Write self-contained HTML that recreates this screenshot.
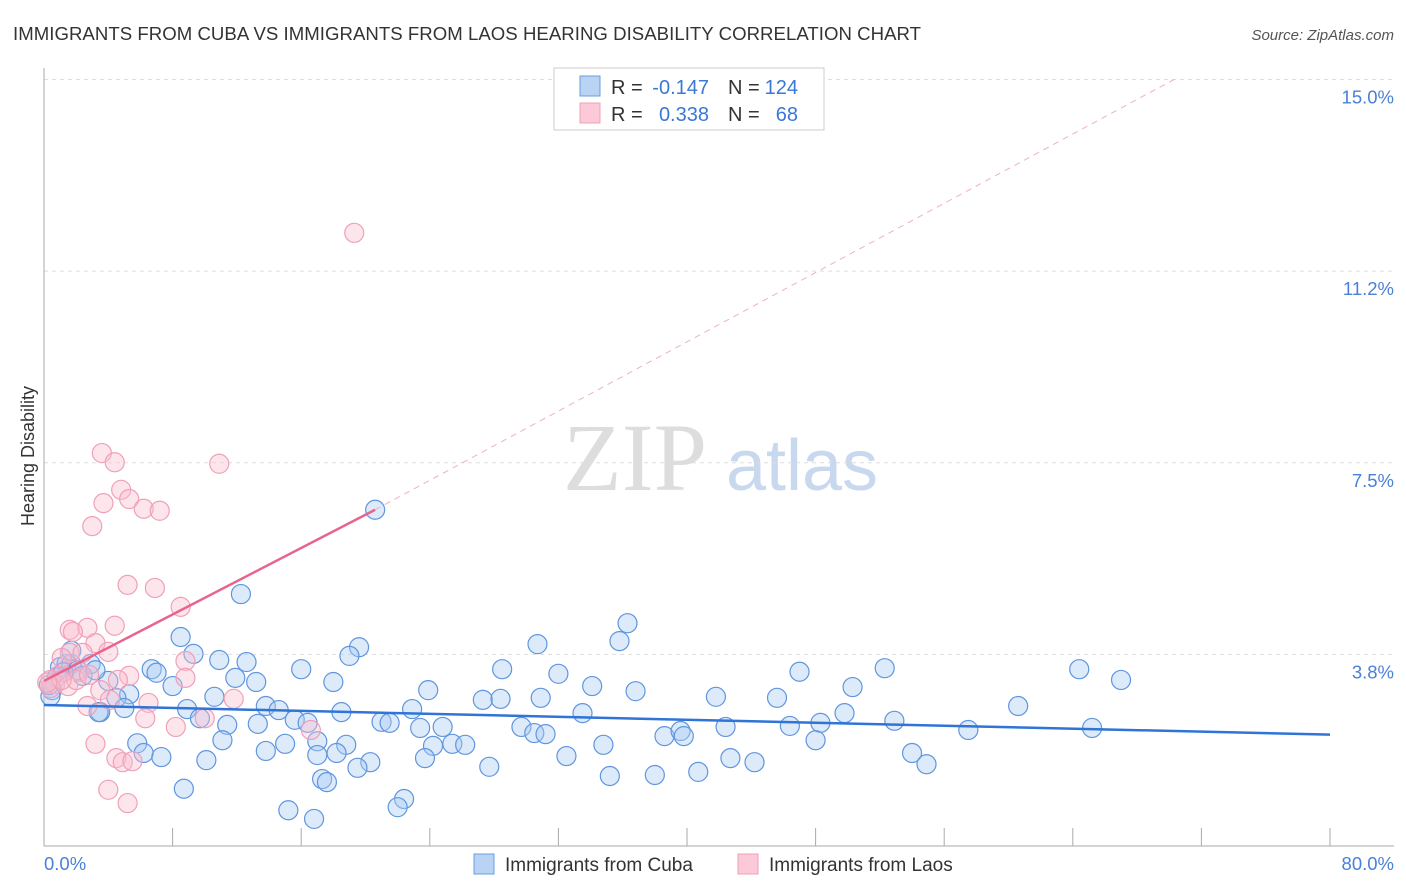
<!DOCTYPE html>
<html><head><meta charset="utf-8"><style>
body{margin:0;background:#fff;font-family:"Liberation Sans",sans-serif}
svg{display:block}
</style></head><body>
<svg id="c" width="1406" height="892" xmlns="http://www.w3.org/2000/svg">
<text x="13" y="40" font-size="18.6" fill="#333" textLength="908">IMMIGRANTS FROM CUBA VS IMMIGRANTS FROM LAOS HEARING DISABILITY CORRELATION CHART</text>
<text x="1394" y="40" font-size="15" fill="#555" font-style="italic" text-anchor="end">Source: ZipAtlas.com</text>
<text x="635" y="490" font-size="96" fill="#ddd" font-family="Liberation Serif,serif" text-anchor="middle">ZIP</text>
<text x="802" y="490" font-size="72" fill="#c8d8ee" text-anchor="middle">atlas</text>
<text transform="translate(34,456) rotate(-90)" font-size="18" fill="#333" text-anchor="middle">Hearing Disability</text>
<g id="grid"></g><g id="pts"></g><g id="lines"></g>
<text x="44" y="870" font-size="18.5" fill="#4a80d8">0.0%</text>
<text x="1394" y="870" font-size="18.5" fill="#4a80d8" text-anchor="end">80.0%</text>
<g font-size="20">
<rect x="554" y="68" width="270" height="62" fill="#fff" stroke="#ccc"/>
<rect x="580" y="76" width="20" height="20" fill="#b9d3f5" stroke="#6a9de0"/>
<rect x="580" y="103" width="20" height="20" fill="#fbc9d8" stroke="#f0a0b8"/>
<text x="611" y="94" fill="#333">R =</text>
<text x="709" y="94" fill="#3a78d8" text-anchor="end">-0.147</text>
<text x="728" y="94" fill="#333">N =</text>
<text x="798" y="94" fill="#3a78d8" text-anchor="end">124</text>
<text x="611" y="121" fill="#333">R =</text>
<text x="709" y="121" fill="#3a78d8" text-anchor="end">0.338</text>
<text x="728" y="121" fill="#333">N =</text>
<text x="798" y="121" fill="#3a78d8" text-anchor="end">68</text>
</g>
<g>
<rect x="474" y="854" width="20" height="20" fill="#b9d3f5" stroke="#6a9de0"/>
<text x="505" y="871" font-size="19" fill="#333">Immigrants from Cuba</text>
<rect x="738" y="854" width="20" height="20" fill="#fbc9d8" stroke="#f0a0b8"/>
<text x="769" y="871" font-size="19" fill="#333">Immigrants from Laos</text>
</g>
</svg>
<script>
const yTicks=[3.75,7.5,11.25,15];
const yTickLabels=["3.8%","7.5%","11.2%","15.0%"];
const xTicks=[0,8,16,24,32,40,48,56,64,72,80];
const cubaX=[20.6,12.25,36.3,8.5,30.7,19.6,35.8,19.0,9.3,10.9,12.6,6.7,7.0,16.0,28.5,32.0,47.0,52.3,64.4,67.0,11.9,13.2,18.0,8.0,23.9,34.1,36.8,50.3,10.6,27.3,28.4,30.9,41.8,45.6,5.3,4.5,5.0,3.5,8.9,13.8,14.6,18.5,22.9,33.5,49.8,60.6,9.7,15.6,16.4,11.4,13.3,21.0,21.5,23.4,24.8,29.7,30.5,31.2,38.6,39.6,39.8,42.4,46.4,48.3,52.9,57.5,65.2,11.1,15.0,17.0,18.8,24.2,25.4,26.2,34.8,48.0,5.8,6.2,7.3,10.1,13.8,17.0,18.2,20.3,19.5,23.7,27.7,32.5,42.7,44.2,54.0,54.9,35.2,38.0,40.7,17.3,17.6,8.7,22.4,22.0,15.2,16.8,1.0,1.4,1.7,2.9,2.1,0.5,0.4,1.7,4.0,2.4,3.2,3.4,0.3,0.8,1.2];
const cubaY=[6.58,4.93,4.36,4.09,3.95,3.89,4.01,3.72,3.76,3.64,3.60,3.46,3.39,3.46,3.46,3.37,3.41,3.48,3.46,3.25,3.29,3.21,3.21,3.13,3.05,3.13,3.03,3.11,2.92,2.86,2.88,2.90,2.92,2.90,2.97,2.90,2.70,2.62,2.68,2.74,2.66,2.62,2.68,2.60,2.60,2.74,2.50,2.47,2.41,2.37,2.39,2.43,2.41,2.31,2.33,2.33,2.21,2.19,2.15,2.25,2.15,2.33,2.35,2.41,2.45,2.27,2.31,2.07,2.00,2.05,1.98,1.96,2.00,1.98,1.98,2.07,2.01,1.82,1.74,1.68,1.86,1.78,1.82,1.64,1.53,1.72,1.55,1.76,1.72,1.64,1.82,1.60,1.37,1.39,1.45,1.31,1.25,1.12,0.92,0.76,0.70,0.53,3.50,3.56,3.56,3.56,3.44,3.05,2.93,3.82,3.23,3.33,3.44,2.62,3.15,3.30,3.40];
const laosX=[19.3,3.6,4.4,10.9,4.8,3.7,5.3,6.2,7.2,3.0,5.2,6.9,8.5,4.4,1.6,2.7,1.8,3.2,4.0,8.8,1.6,2.4,1.1,5.3,8.8,0.9,0.4,0.7,2.2,4.6,3.5,1.5,2.0,11.8,6.5,2.7,4.1,6.3,10.0,8.2,16.6,3.2,4.5,4.9,5.5,4.0,5.2,0.4,1.1,0.2,2.8];
const laosY=[12.0,7.69,7.51,7.48,6.97,6.71,6.79,6.60,6.56,6.26,5.11,5.05,4.68,4.31,4.23,4.27,4.19,3.97,3.80,3.62,3.78,3.78,3.68,3.33,3.29,3.33,3.25,3.17,3.41,3.25,3.05,3.13,3.25,2.88,2.80,2.74,2.86,2.50,2.50,2.33,2.27,2.00,1.72,1.64,1.66,1.10,0.84,3.09,3.25,3.20,3.35];
const cubaTrend=[[0,2.76],[80,2.18]];
const laosTrend=[[0,3.23],[20.6,6.58]];
const laosTrendExt=[[20.6,6.58],[70.3,15.0]];
const X=v=>44+v/80*1286, Y=v=>846-v*51.1;
const NS="http://www.w3.org/2000/svg";
function mk(t,a,p){const e=document.createElementNS(NS,t);for(const k in a)e.setAttribute(k,a[k]);p.appendChild(e);return e;}
const grid=document.getElementById('grid'),pts=document.getElementById('pts'),lines=document.getElementById('lines');
yTicks.forEach((v,i)=>{
 const l=mk('line',{x1:44,x2:1394,y1:Y(v),y2:Y(v),stroke:'#ddd','stroke-dasharray':'4,4'},grid);
 
 
 const t=mk('text',{x:1394,y:Y(v)+24,'font-size':18.5,fill:'#4a80d8','text-anchor':'end'},grid);
 t.textContent=yTickLabels[i];
 
 
});
const ax=mk('line',{x1:44,x2:44,y1:68,y2:846,stroke:'#aaa'},grid);


const bx=mk('line',{x1:44,x2:1394,y1:846,y2:846,stroke:'#aaa'},grid);


xTicks.forEach(v=>{
 const t=mk('line',{x1:X(v),x2:X(v),y1:828,y2:846,stroke:'#aaa'},grid);
 
 
});
cubaX.forEach((v,i)=>{
 const c=mk('circle',{cx:X(v),cy:Y(cubaY[i]),r:9.5,fill:'rgba(170,202,242,0.4)',stroke:'#5f96df','stroke-width':1.2},pts);
 
 
});
laosX.forEach((v,i)=>{
 const c=mk('circle',{cx:X(v),cy:Y(laosY[i]),r:9.5,fill:'rgba(250,190,208,0.4)',stroke:'#f0a0b8','stroke-width':1.2},pts);
 
 
});
const l1=mk('line',{x1:X(cubaTrend[0][0]),y1:Y(cubaTrend[0][1]),x2:X(cubaTrend[1][0]),y2:Y(cubaTrend[1][1]),stroke:'#2f74d6','stroke-width':2.5},lines);


const l2=mk('line',{x1:X(laosTrend[0][0]),y1:Y(laosTrend[0][1]),x2:X(laosTrend[1][0]),y2:Y(laosTrend[1][1]),stroke:'#e8648e','stroke-width':2.5},lines);


const l3=mk('line',{x1:X(laosTrendExt[0][0]),y1:Y(laosTrendExt[0][1]),x2:X(laosTrendExt[1][0]),y2:Y(laosTrendExt[1][1]),stroke:'#eeb0c4','stroke-width':1,'stroke-dasharray':'6,5'},lines);


</script>
</body></html>
